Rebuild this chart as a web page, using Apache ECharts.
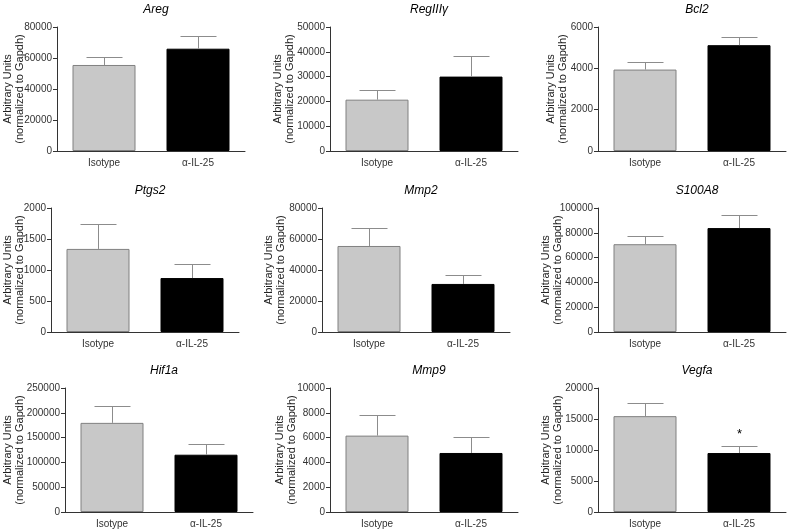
<!DOCTYPE html>
<html><head><meta charset="utf-8">
<script src="https://cdn.jsdelivr.net/npm/echarts@6/dist/echarts.min.js"></script>
<style>html,body{margin:0;padding:0;background:#fff}#c{width:787px;height:530px}</style>
</head><body><div id="c"></div>
<script>
// ---- data ----
const categories = ['Isotype', 'α-IL-25'];
const genes = ['Areg', 'RegIIIγ', 'Bcl2', 'Ptgs2', 'Mmp2', 'S100A8', 'Hif1a', 'Mmp9', 'Vegfa'];

const aregMean = [55500, 66000],   aregSem = [5300, 8000];
const reg3gMean = [20700, 30000],  reg3gSem = [3700, 8400];
const bcl2Mean = [3940, 5120],     bcl2Sem = [360, 400];
const ptgs2Mean = [1340, 870],     ptgs2Sem = [400, 230];
const mmp2Mean = [55500, 31000],   mmp2Sem = [11500, 5800];
const s100a8Mean = [70800, 83800], s100a8Sem = [7000, 10500];
const hif1aMean = [179700, 115500],hif1aSem = [33100, 22300];
const mmp9Mean = [6160, 4760],     mmp9Sem = [1680, 1320];
const vegfaMean = [15460, 9510],   vegfaSem = [2110, 1090];

const means = [aregMean, reg3gMean, bcl2Mean, ptgs2Mean, mmp2Mean, s100a8Mean, hif1aMean, mmp9Mean, vegfaMean];
const sems  = [aregSem, reg3gSem, bcl2Sem, ptgs2Sem, mmp2Sem, s100a8Sem, hif1aSem, mmp9Sem, vegfaSem];
const significance = [['',''],['',''],['',''],['',''],['',''],['',''],['',''],['',''],['','*']];

// y-axis tick settings
const yMax = [80000, 50000, 6000, 2000, 80000, 100000, 250000, 10000, 20000];
const yInterval = [20000, 10000, 2000, 500, 20000, 20000, 50000, 2000, 5000];

// ---- layout (positions) ----
const gridLeft = [57, 330, 598, 51, 322, 598, 65, 330, 598];
const rowTop = [27, 208, 388];
const nameGaps = [31, 34, 29, 25, 35, 34, 39, 32, 34];
const GW = 188, GH = 124;

const FONT = 'Liberation Sans, Arial, sans-serif';
const barColors = ['#c8c8c8', '#000000'];
const barBorders = ['#808080', '#000000'];

const grids = [], xAxes = [], yAxes = [], series = [], titles = [];
for (let i = 0; i < 9; i++) {
  const top = rowTop[Math.floor(i / 3)];
  grids.push({ left: gridLeft[i], top: top, width: GW, height: GH, containLabel: false, outerBoundsMode: 'none' });
  titles.push({
    text: genes[i], left: gridLeft[i] + GW / 2, top: top - 28, textAlign: 'center',
    textStyle: { fontFamily: FONT, fontStyle: 'italic', fontWeight: 'normal', fontSize: 12, color: '#000' }
  });
  xAxes.push({
    gridIndex: i, type: 'category', data: categories,
    axisLine: { lineStyle: { color: '#333', width: 1 } },
    axisTick: { alignWithLabel: true, length: 4, lineStyle: { color: '#333' } },
    axisLabel: { fontFamily: FONT, fontSize: 10, color: '#333', margin: 7 },
    splitLine: { show: false }
  });
  yAxes.push({
    gridIndex: i, type: 'value', min: 0, max: yMax[i], interval: yInterval[i],
    name: 'Arbitrary Units\n(normalized to Gapdh)', nameLocation: 'middle', nameRotate: 90,
    nameGap: nameGaps[i], nameMoveOverlap: false,
    nameTextStyle: { fontFamily: FONT, fontSize: 11, color: '#222', lineHeight: 12 },
    axisLine: { show: true, lineStyle: { color: '#333', width: 1 } },
    axisTick: { show: true, length: 4, lineStyle: { color: '#333' } },
    axisLabel: { fontFamily: FONT, fontSize: 10, color: '#333', margin: 5, formatter: v => String(v) },
    splitLine: { show: false }
  });
  series.push({
    type: 'bar', xAxisIndex: i, yAxisIndex: i, barWidth: 63, silent: true,
    data: means[i].map((v, k) => ({
      value: v,
      itemStyle: { color: barColors[k], borderColor: barBorders[k], borderWidth: 1 }
    }))
  });
  const sig = significance[i];
  series.push({
    type: 'custom', xAxisIndex: i, yAxisIndex: i, silent: true, z: 5,
    encode: { x: 0, y: 1 },
    data: means[i].map((v, k) => [k, v, sems[i][k]]),
    renderItem: function (params, api) {
      const x = api.value(0), m = api.value(1), e = api.value(2);
      const p0 = api.coord([x, m]);
      const p1 = api.coord([x, m + e]);
      const cx = Math.round(p0[0]) + 0.5;
      const ty = Math.round(p1[1]) + 0.5;
      const children = [
        { type: 'line', shape: { x1: cx, y1: p0[1], x2: cx, y2: ty }, style: { stroke: '#8c8c8c', lineWidth: 1 } },
        { type: 'line', shape: { x1: cx - 18, y1: ty, x2: cx + 18, y2: ty }, style: { stroke: '#8c8c8c', lineWidth: 1 } }
      ];
      const s = sig[params.dataIndex];
      if (s) {
        children.push({ type: 'text', style: { text: s, x: cx, y: ty - 12, align: 'center', verticalAlign: 'middle', font: '13px ' + FONT, fill: '#000' } });
      }
      return { type: 'group', children: children };
    }
  });
}

const chart = echarts.init(document.getElementById('c'), null, { renderer: 'canvas' });
chart.setOption({
  animation: false,
  backgroundColor: '#fff',
  title: titles,
  grid: grids,
  xAxis: xAxes,
  yAxis: yAxes,
  series: series
});
</script>
</body></html>
